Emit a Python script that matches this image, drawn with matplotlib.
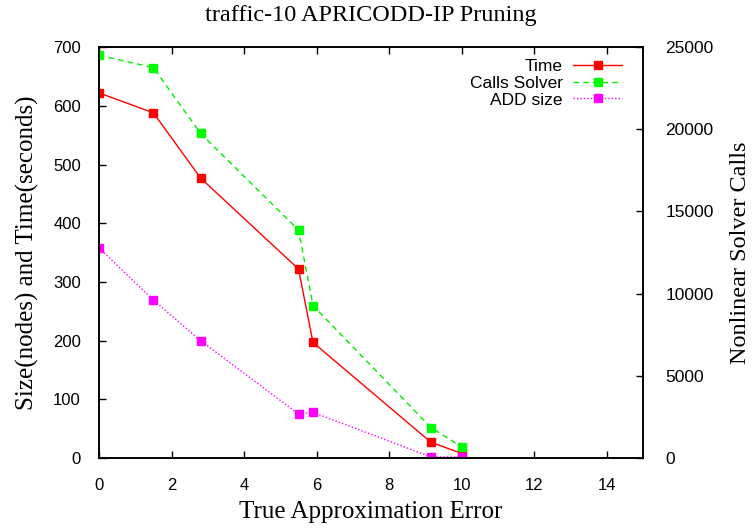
import matplotlib
matplotlib.use("Agg")
import matplotlib.pyplot as plt

# data
error = [0, 1.5, 2.8, 5.5, 5.9, 9.15, 10]
time_s = [622, 588, 477, 322, 197, 27, 8]
calls_solver = [24500, 23750, 19750, 13870, 9280, 1860, 690]
add_size = [358, 269, 200, 75, 78, 2, 2]

fig = plt.figure(figsize=(7.53, 5.29), dpi=100)
ax = fig.add_axes([0.1315, 0.134, 0.7225, 0.777])
ax2 = ax.twinx()

ms = 5.5
l1, = ax.plot(error, time_s, color="#ff0000", lw=1, marker="s", ms=ms,
              label="Time")
l2, = ax2.plot(error, calls_solver, color="#00ee00", lw=1, ls=(0, (4, 3)),
               marker="s", ms=ms, mfc="#00ff00", mec="#00ff00", label="Calls Solver")
l3, = ax.plot(error, add_size, color="#ff00ff", lw=1, ls=(0, (1, 1.5)),
              marker="s", ms=ms, label="ADD size")

ax.set_xlim(0, 15)
ax.set_ylim(0, 700)
ax2.set_ylim(0, 25000)
ax.set_xticks(range(0, 15, 2))
ax.set_yticks(range(0, 701, 100))
ax2.set_yticks(range(0, 25001, 5000))

sans = "Liberation Sans"
serif = "Liberation Serif"
for lab in ax.get_xticklabels() + ax.get_yticklabels():
    lab.set_fontfamily(sans)
    lab.set_fontsize(12)
for lab in ax2.get_yticklabels():
    lab.set_fontfamily(sans)
    lab.set_fontsize(12.5)

ax.tick_params(axis="x", direction="in", length=5, top=True, width=1, pad=14)
ax.tick_params(axis="y", direction="in", length=5, right=False, width=1, pad=13)
ax2.tick_params(direction="in", length=5, width=1, pad=16)
for a in (ax, ax2):
    for sp in a.spines.values():
        sp.set_linewidth(1.2)

ax.set_title("traffic-10 APRICODD-IP Pruning", fontfamily=serif, fontsize=17.5, pad=19)
ax.set_xlabel("True Approximation Error", fontfamily=serif, fontsize=18, labelpad=6)
ax.set_ylabel("Size(nodes) and Time(seconds)", fontfamily=serif, fontsize=18, labelpad=10)
ax2.set_ylabel("Nonlinear Solver Calls", fontfamily=serif, fontsize=17.5, labelpad=12)

ax.legend([l1, l2, l3], ["Time", "Calls Solver", "ADD size"], loc="upper right",
          bbox_to_anchor=(0.961, 0.972), frameon=False, markerfirst=False,
          handlelength=2.8, numpoints=1, prop={"family": sans, "size": 12.5},
          labelspacing=0.1, borderpad=0, borderaxespad=0, handletextpad=0.6)

fig.savefig("out.png", dpi=100)
